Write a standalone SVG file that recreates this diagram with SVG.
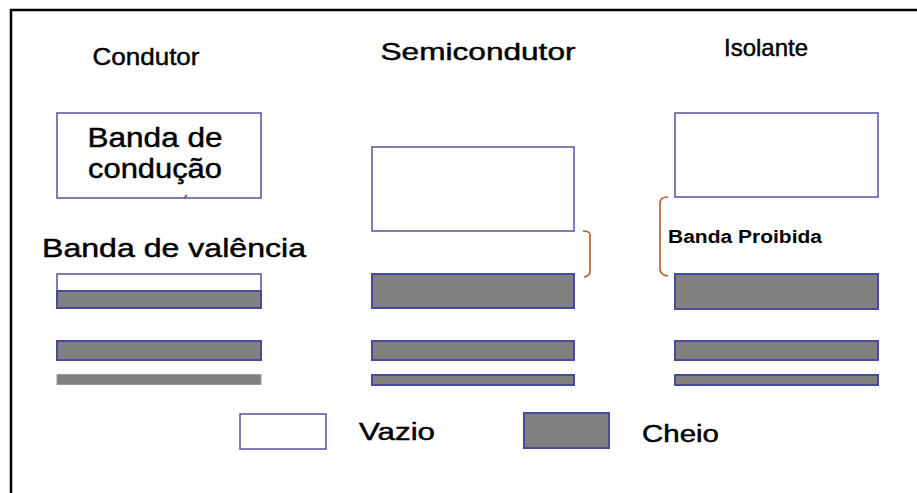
<svg xmlns="http://www.w3.org/2000/svg" width="917" height="493" viewBox="0 0 917 493">
  <style>
    text { font-family: "Liberation Sans", Arial, sans-serif; fill: #000; }
    .title, .lbl, .leg, .val { stroke: #000; stroke-width: 0.45; }
    .title { font-size: 24px; text-anchor: middle; }
    .lbl { font-size: 27px; text-anchor: middle; }
    .val { font-size: 25px; }
    .leg { font-size: 23px; }
    .gap { font-size: 18px; font-weight: bold; }
    .empty { fill: #fff; stroke: #5252a0; stroke-width: 1.5; }
    .full { fill: #808080; stroke: #4a4a9a; stroke-width: 2; }
    .full-plain { fill: #808080; stroke: #9a9a9a; stroke-width: 1; }
    .brace { fill: none; stroke: #b85a26; stroke-width: 1.6; }
  </style>

  <rect x="0" y="0" width="917" height="493" fill="#fff"/>
  <!-- frame: only the top and left edges fall inside the view -->
  <path d="M11,493 L11,10 L917,10" fill="none" stroke="#000" stroke-width="2.5"/>

  <!-- column: conductor -->
  <g id="condutor">
    <text class="title" x="146" y="65" textLength="107" lengthAdjust="spacingAndGlyphs">Condutor</text>
    <g id="condutor-conducao">
      <rect class="empty" x="57" y="113" width="204" height="85"/>
      <text class="lbl" x="155" y="147" textLength="135" lengthAdjust="spacingAndGlyphs">Banda de</text>
      <text class="lbl" x="155" y="178" textLength="134" lengthAdjust="spacingAndGlyphs">condução</text>
      <path d="M184,198 L187,195" stroke="#8a2a8a" stroke-width="1.5"/>
    </g>
    <text class="val" x="42" y="257" textLength="264" lengthAdjust="spacingAndGlyphs">Banda de valência</text>
    <g id="condutor-valencia">
      <rect class="empty" x="57" y="274" width="204" height="17"/>
      <rect class="full" x="57" y="291" width="204" height="17"/>
    </g>
    <rect id="condutor-b2" class="full" x="57" y="341" width="204" height="19"/>
    <rect id="condutor-b3" class="full-plain" x="57" y="374.5" width="204" height="10"/>
  </g>

  <!-- column: semiconductor -->
  <g id="semicondutor">
    <text class="title" x="478" y="60" textLength="195" lengthAdjust="spacingAndGlyphs">Semicondutor</text>
    <rect id="semi-conducao" class="empty" x="372" y="147" width="202" height="84"/>
    <rect id="semi-valencia" class="full" x="372" y="274" width="202" height="34"/>
    <rect id="semi-b2" class="full" x="372" y="341" width="202" height="19"/>
    <rect id="semi-b3" class="full" x="372" y="375" width="202" height="10"/>
    <path class="brace" d="M583,231 Q590,231 590,235 L590,271 Q590,276 584,277"/>
  </g>

  <!-- column: insulator -->
  <g id="isolante">
    <text class="title" x="766" y="56" textLength="84" lengthAdjust="spacingAndGlyphs">Isolante</text>
    <rect id="iso-conducao" class="empty" x="675" y="113" width="203" height="84"/>
    <path class="brace" d="M668,197 Q660,197 660,203 L660,269 Q660,275 668,276"/>
    <text class="gap" x="668" y="243" textLength="154" lengthAdjust="spacingAndGlyphs">Banda Proibida</text>
    <rect id="iso-valencia" class="full" x="675" y="274" width="203" height="35"/>
    <rect id="iso-b2" class="full" x="675" y="341" width="203" height="19"/>
    <rect id="iso-b3" class="full" x="675" y="375" width="203" height="10"/>
  </g>

  <!-- legend -->
  <g id="legenda-vazio">
    <rect class="empty" x="240" y="414" width="86" height="35"/>
    <text class="leg" x="359" y="440" textLength="76" lengthAdjust="spacingAndGlyphs">Vazio</text>
  </g>
  <g id="legenda-cheio">
    <rect class="full" x="524" y="413" width="85" height="35"/>
    <text class="leg" x="642" y="442" textLength="77" lengthAdjust="spacingAndGlyphs">Cheio</text>
  </g>
</svg>
